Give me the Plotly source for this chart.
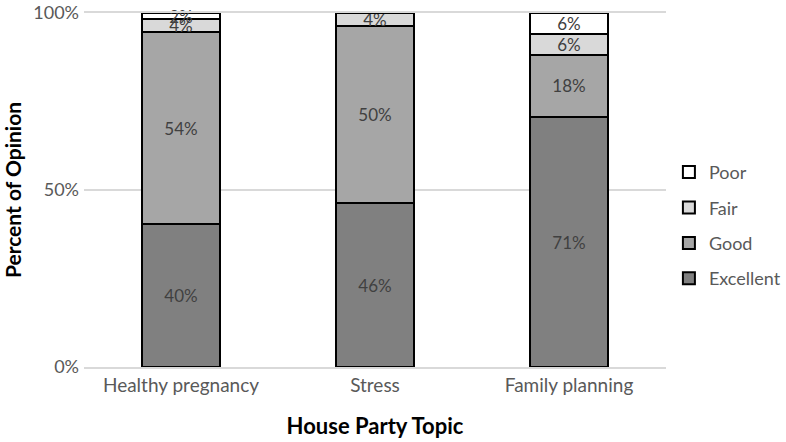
import plotly.graph_objects as go

categories = ["Healthy pregnancy", "Stress", "Family planning"]
excellent = [40.4, 46.3, 70.6]
good = [54.2, 50.0, 17.6]
fair = [3.7, 3.7, 5.9]
poor = [1.7, 0.0, 5.9]

series = [
    ("Excellent", excellent, "#808080", 4),
    ("Good", good, "#a6a6a6", 3),
    ("Fair", fair, "#d9d9d9", 2),
    ("Poor", poor, "#ffffff", 1),
]

fig = go.Figure()
for name, vals, color, rank in series:
    fig.add_trace(go.Bar(
        name=name, x=categories, y=vals, legendgroup=name, legendrank=rank,
        marker=dict(color=color, line=dict(color="#000000", width=2)),
        text=[f"{round(v):d}%" if v > 0 else "" for v in vals],
        textposition="inside", insidetextanchor="middle",
        constraintext="none", cliponaxis=False,
        textfont=dict(family="Lato", size=17, color="#404040"),
        hoverinfo="skip",
    ))

fig.update_layout(
    barmode="stack", bargap=0.6,
    width=786, height=442,
    margin=dict(l=84, r=120, t=13, b=75, autoexpand=False),
    plot_bgcolor="white", paper_bgcolor="white",
    font=dict(family="Lato", color="#595959"),
    legend=dict(traceorder="grouped", x=1.005, y=0.40, yanchor="middle",
                font=dict(family="Lato", size=18, color="#595959"),
                itemwidth=30, tracegroupgap=9),
    showlegend=True,
)
fig.update_yaxes(range=[0, 100], tickvals=[0, 50, 100], ticktext=["0%", "50%", "100%"],
                 showgrid=True, gridcolor="#d9d9d9", gridwidth=2, zeroline=False,
                 automargin=False, ticklabeloverflow="allow", ticklabelstandoff=4,
                 tickfont=dict(family="Lato", size=18, color="#595959"),
                 ticks="", ticklen=0,
                 title=dict(text="<b>Percent of Opinion</b>", font=dict(family="Lato", size=21, color="#000000"), standoff=5))
fig.update_xaxes(showline=True, linecolor="#d9d9d9", linewidth=2, mirror=True,
                 automargin=False,
                 tickfont=dict(family="Lato", size=19, color="#595959"),
                 title=dict(text="<b>House Party Topic</b>", font=dict(family="Lato", size=22, color="#000000"), standoff=24))

fig.write_html("out.html", config={"displayModeBar": False},
               post_script="document.body.style.margin='0';document.body.style.overflow='hidden';")
